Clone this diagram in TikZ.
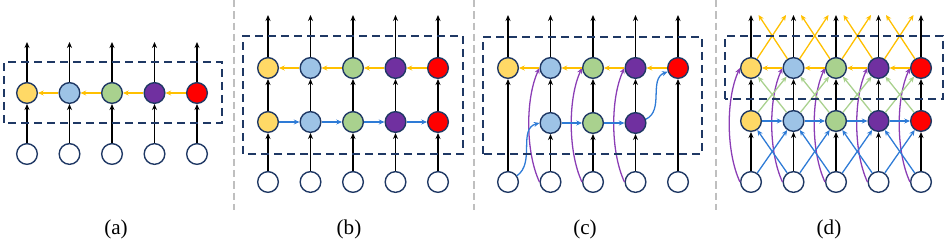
\documentclass[tikz,border=0pt]{standalone}
\usepackage{fontspec}
\setmainfont{Liberation Serif}
\usetikzlibrary{arrows.meta}
\definecolor{nodeNavy}{HTML}{1F3864}
\definecolor{fillYellow}{HTML}{FFD966}
\definecolor{fillBlue}{HTML}{9DC3E6}
\definecolor{fillGreen}{HTML}{A9D18E}
\definecolor{fillPurple}{HTML}{7030A0}
\definecolor{fillRed}{HTML}{FF0000}
\definecolor{arrYellow}{HTML}{FFC000}
\definecolor{arrBlue}{HTML}{2E7BD6}
\definecolor{arrGreen}{HTML}{A9D18E}
\definecolor{arrPurple}{HTML}{8B3DB5}
\definecolor{sepGray}{HTML}{BFBFBF}
\tikzset{
  cell/.style={circle, draw=nodeNavy, line width=1.2pt, minimum size=6.2mm, inner sep=0pt},
  inputcell/.style={cell, fill=white},
  uparr/.style={-{Stealth[length=1.8mm, width=1.5mm]}, line width=1.5pt, black},
  yarr/.style={-{Stealth[length=1.7mm, width=1.5mm]}, line width=1.1pt, arrYellow},
  barr/.style={-{Stealth[length=1.7mm, width=1.5mm]}, line width=1.1pt, arrBlue},
  garr/.style={-{Stealth[length=1.7mm, width=1.5mm]}, line width=1.1pt, arrGreen},
  parr/.style={-{Stealth[length=1.7mm, width=1.5mm]}, line width=1.1pt, arrPurple},
  layerbox/.style={draw=nodeNavy, line width=1.8pt, dash pattern=on 2.4mm off 1.5mm},
  sepline/.style={draw=sepGray, line width=1pt, dash pattern=on 2.2mm off 1.2mm},
  sublabel/.style={font=\fontsize{18}{20}\selectfont, inner sep=0pt},
}
\begin{document}
\begin{tikzpicture}[x=0.3mm, y=0.3mm]
  \useasboundingbox (0,0) rectangle (948,241);
  \draw[sepline] (234,241) -- (234,31);
  \draw[sepline] (474,241) -- (474,31);
  \draw[sepline] (716,241) -- (716,31);

  % (a) single layer
  \foreach \i/\c in {1/fillYellow,2/fillBlue,3/fillGreen,4/fillPurple,5/fillRed} {
    \pgfmathsetmacro\xa{27+42.5*(\i-1)}
    \node[inputcell] (ain\i) at (\xa,87) {};
    \node[cell, fill=\c] (amid\i) at (\xa,148) {};
    \coordinate (aout\i) at (\xa,199);
    \draw[uparr] (ain\i) -- (amid\i);
    \draw[uparr] (amid\i) -- (aout\i);
  }
  \foreach \i [count=\j from 2] in {1,...,4}
    \draw[yarr] (amid\j) -- (amid\i);
  \draw[layerbox] (4,118) rectangle (222,179);

  % (b) two layers
  \foreach \i/\c in {1/fillYellow,2/fillBlue,3/fillGreen,4/fillPurple,5/fillRed} {
    \pgfmathsetmacro\xb{268+42.5*(\i-1)}
    \node[inputcell] (bin\i) at (\xb,59) {};
    \node[cell, fill=\c] (bbot\i) at (\xb,119) {};
    \node[cell, fill=\c] (btop\i) at (\xb,173) {};
    \coordinate (bout\i) at (\xb,226);
    \draw[uparr] (bin\i) -- (bbot\i);
    \draw[uparr] (bbot\i) -- (btop\i);
    \draw[uparr] (btop\i) -- (bout\i);
  }
  \foreach \i [count=\j from 2] in {1,...,4} {
    \draw[yarr] (btop\j) -- (btop\i);
    \draw[barr] (bbot\i) -- (bbot\j);
  }
  \draw[layerbox] (243,87) rectangle (463,205);

  % (c)
  \foreach \i/\c in {1/fillYellow,2/fillBlue,3/fillGreen,4/fillPurple,5/fillRed} {
    \pgfmathsetmacro\xc{508+42.5*(\i-1)}
    \node[inputcell] (cin\i) at (\xc,59) {};
    \node[cell, fill=\c] (ctop\i) at (\xc,173) {};
    \coordinate (cout\i) at (\xc,226);
    \draw[uparr] (ctop\i) -- (cout\i);
  }
  \foreach \i/\c in {2/fillBlue,3/fillGreen,4/fillPurple} {
    \pgfmathsetmacro\xc{508+42.5*(\i-1)}
    \node[cell, fill=\c] (cmid\i) at (\xc,118) {};
    \draw[uparr] (cin\i) -- (cmid\i);
    \draw[uparr] (cmid\i) -- (ctop\i);
    \draw[parr] (cin\i.west) to[out=115, in=245, looseness=0.75] (ctop\i.west);
  }
  \draw[uparr] (cin1) -- (ctop1);
  \draw[uparr] (cin5) -- (ctop5);
  \foreach \i [count=\j from 2] in {1,...,4}
    \draw[yarr] (ctop\j) -- (ctop\i);
  \draw[barr] (cmid2) -- (cmid3);
  \draw[barr] (cmid3) -- (cmid4);
  \draw[barr] (cin1.35) to[out=35, in=195] (cmid2.west);
  \draw[barr] (cmid4.20) to[out=25, in=200] (ctop5.200);
  \draw[layerbox] (483,87) rectangle (702,204);

  % (d)
  \foreach \i/\c in {1/fillYellow,2/fillBlue,3/fillGreen,4/fillPurple,5/fillRed} {
    \pgfmathsetmacro\xd{751+42.5*(\i-1)}
    \node[inputcell] (din\i) at (\xd,59) {};
    \node[cell, fill=\c] (dmid\i) at (\xd,120) {};
    \node[cell, fill=\c] (dtop\i) at (\xd,173) {};
    \coordinate (dout\i) at (\xd,226);
    \draw[uparr] (din\i) -- (dmid\i);
    \draw[uparr] (dmid\i) -- (dtop\i);
    \draw[uparr] (dtop\i) -- (dout\i);
    \draw[parr] (din\i.west) to[out=115, in=245, looseness=0.75] (dtop\i.west);
  }
  \foreach \i [count=\j from 2] in {1,...,4} {
    \pgfmathsetmacro\xd{751+42.5*(\i-1)}
    \coordinate (dyl\i) at (\xd+7.5,226);
    \coordinate (dyr\i) at (\xd+35,226);
    \draw[yarr] (dtop\i) -- (dyr\i);
    \draw[yarr] (dtop\j) -- (dyl\i);
    \draw[yarr] (dtop\j) -- (dtop\i);
    \draw[garr] (dmid\i) -- (dtop\j);
    \draw[garr] (dmid\j) -- (dtop\i);
    \draw[barr] (din\i) -- (dmid\j);
    \draw[barr] (din\j) -- (dmid\i);
    \draw[barr] (dmid\i) -- (dmid\j);
  }
  \draw[layerbox] (725,142) rectangle (943,205);

  \node[sublabel] (labA) at (116,12) {(a)};
  \node[sublabel] (labB) at (349,12) {(b)};
  \node[sublabel] (labC) at (585,12) {(c)};
  \node[sublabel] (labD) at (829,12) {(d)};
\end{tikzpicture}
\end{document}
